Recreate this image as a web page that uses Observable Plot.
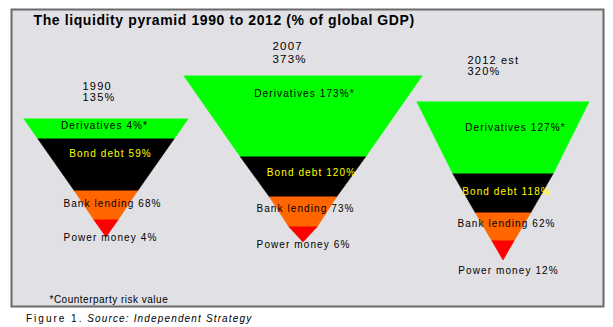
<!DOCTYPE html>
<html><head><meta charset="utf-8">
<script src="https://cdn.jsdelivr.net/npm/d3@7"></script>
<script src="https://cdn.jsdelivr.net/npm/@observablehq/plot@0.6"></script>
<style>
body{margin:0;background:#fff;font-family:"Liberation Sans",Arial,sans-serif;}
#chart svg{display:block;}
#caption{height:17px;line-height:17px;padding-left:26px;font-size:10px;letter-spacing:2px;color:#000;white-space:nowrap;}
#caption i{letter-spacing:1.15px;margin-left:-1px;}
</style></head><body>
<div id="chart"></div>
<div id="caption">Figure 1. <i>Source: Independent Strategy</i></div>
<script>
// ---- values ----
const title = "The liquidity pyramid 1990 to 2012 (% of global GDP)";
const years = ["1990", "2007", "2012 est"];
const totals = [135, 373, 320];
const segments = ["Derivatives", "Bond debt", "Bank lending", "Power money"];
const derivatives = [4, 173, 127];
const bondDebt = [59, 120, 118];
const bankLending = [68, 73, 62];
const powerMoney = [4, 6, 12];
const footnote = "*Counterparty risk value";

// ---- layout (schematic, not proportional) ----
const pyramidCenter = [106, 303, 503];
const levelY = [[119, 139, 191, 220, 237], [76, 157, 197, 227, 242], [102, 174, 213, 241, 260]];
const levelHalfWidth = [[82, 68, 31.5, 12, 0], [119, 62.5, 33.5, 14, 0], [86, 50, 27.5, 11, 0]];
const labelX = [[104, 110, 112, 110], [304, 311, 305, 303], [515, 506, 506, 508]];
const labelY = [[125, 153, 203, 237], [93, 172, 208, 244], [127, 191, 223, 270]];
const yearX = [82, 272, 467];
const yearY = [86, 46, 60];
const totalY = [97, 59, 71];
const yearFont = [11, 11.5, 11];

const segColors = ["#00ff00", "#000000", "#ff6600", "#ff0000"];
const values = [derivatives, bondDebt, bankLending, powerMoney];

const bandRows = [];
years.forEach((yr, p) => segments.forEach((s, b) => {
  for (const k of [b, b + 1]) {
    bandRows.push({key: yr + "|" + s, segment: s, y: levelY[p][k],
      x1: pyramidCenter[p] - levelHalfWidth[p][k], x2: pyramidCenter[p] + levelHalfWidth[p][k]});
  }
}));
const labelRows = [];
years.forEach((yr, p) => segments.forEach((s, b) => {
  labelRows.push({segment: s, text: `${s} ${values[b][p]}%${b === 0 ? "*" : ""}`, x: labelX[p][b], y: labelY[p][b]});
}));
const yearRows = years.map((yr, i) => ({year: yr, total: `${totals[i]}%`, x: yearX[i], y: yearY[i], y2: totalY[i], fs: yearFont[i]}));

const font = '"Liberation Sans", Arial, sans-serif';
const chart = Plot.plot({
  width: 613, height: 310,
  marginLeft: 11, marginRight: 10, marginTop: 9, marginBottom: 4,
  x: {domain: [11, 603], axis: null},
  y: {domain: [9, 306], reverse: true, axis: null},
  color: {domain: segments, range: segColors},
  style: {fontFamily: font, background: "#fff", overflow: "visible"},
  marks: [
    Plot.frame({fill: "#e1e1e5", stroke: "#6a6a6a", strokeWidth: 2}),
    Plot.areaX(bandRows, {y: "y", x1: "x1", x2: "x2", z: "key", fill: "segment", stroke: "segment", strokeWidth: 0.6}),
    Plot.text([title], {frameAnchor: "top-left", dx: 22, dy: 11, lineAnchor: "middle", text: d => d, textAnchor: "start", fontWeight: "bold", fontSize: 14, fill: "#000"}),
    Plot.text([footnote], {frameAnchor: "bottom-left", dx: 38, dy: -7, lineAnchor: "middle", text: d => d, textAnchor: "start", fontSize: 10, fill: "#000"}),
    Plot.text(yearRows, {x: "x", y: "y", text: "year", textAnchor: "start", fontSize: "fs", fill: "#000"}),
    Plot.text(yearRows, {x: "x", y: "y2", text: "total", textAnchor: "start", fontSize: "fs", fill: "#000"}),
    Plot.text(labelRows.filter(d => d.segment !== "Bond debt"), {x: "x", y: "y", text: "text", fontSize: 10, fill: "#000"}),
    Plot.text(labelRows.filter(d => d.segment === "Bond debt"), {x: "x", y: "y", text: "text", fontSize: 10, fill: "#ffff00"})
  ]
});
document.getElementById("chart").appendChild(chart);
const textGroups = d3.select(chart).selectAll('g[aria-label="text"]').nodes();
const spacing = [0.6, 0.5, 1.2, 1.2, 1.1, 1.1];
textGroups.forEach((g, i) => d3.select(g).style("letter-spacing", spacing[i] + "px"));
</script>
</body></html>
